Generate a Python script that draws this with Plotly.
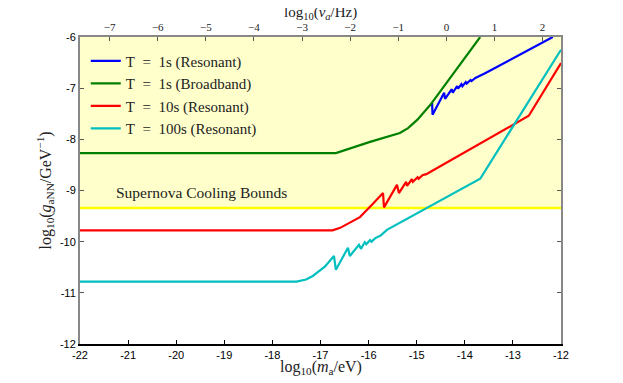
import plotly.graph_objects as go

# log10(m_a/eV) -> log10(nu_a/Hz) offset (1 eV / h = 2.418e14 Hz)
HZ_PER_EV_LOG = 14.383

SN_BOUND = -9.34  # supernova cooling bound on log10(g_aNN)

x_ticks = [-22, -21, -20, -19, -18, -17, -16, -15, -14, -13, -12]
y_ticks = [-12, -11, -10, -9, -8, -7, -6]
top_ticks = [-7, -6, -5, -4, -3, -2, -1, 0, 1, 2]

# T = 1s broadband
m_bb1 = [-22, -16.68, -15.97, -15.35, -15.18, -14.99, -14.72, -13.68]
g_bb1 = [-8.27, -8.27, -8.05, -7.875, -7.78, -7.62, -7.33, -6.0]

# T = 1s resonant
m_res1 = [-14.68, -14.67, -14.43, -14.41, -14.27, -14.25, -14.16, -14.14, -14.07, -14.05,
          -13.98, -13.96, -13.88, -13.86, -13.78, -13.70, -13.60, -13.50, -13.40, -13.27, -12.17]
g_res1 = [-7.29, -7.52, -7.09, -7.21, -7.02, -7.09, -6.96, -7.01, -6.92, -6.96,
          -6.88, -6.91, -6.84, -6.86, -6.80, -6.77, -6.72, -6.67, -6.62, -6.55, -6.0]

# T = 10s resonant
m_res10 = [-22, -16.75, -16.59, -16.4, -16.18, -15.93, -15.70, -15.68, -15.41, -15.37,
           -15.22, -15.20, -15.10, -15.08, -14.98, -14.96, -14.88, -14.80, -14.72, -12.67, -12.0]
g_res10 = [-9.78, -9.78, -9.73, -9.64, -9.52, -9.28, -9.05, -9.33, -8.89, -9.05,
           -8.83, -8.91, -8.78, -8.83, -8.74, -8.77, -8.70, -8.68, -8.64, -7.54, -6.51]

# T = 100s resonant
m_res100 = [-22, -17.5, -17.3, -17.16, -16.91, -16.72, -16.68, -16.43, -16.39, -16.20, -16.16,
            -16.08, -16.05, -15.97, -15.94, -15.86, -15.75, -15.62, -13.68, -12.0]
g_res100 = [-10.78, -10.78, -10.74, -10.67, -10.49, -10.28, -10.55, -10.12, -10.28, -10.06, -10.14,
            -10.01, -10.05, -9.97, -10.0, -9.93, -9.88, -9.77, -8.77, -6.25]

SERIF = "Liberation Serif"
SANS = "Liberation Sans"
NB = "\u00a0"

series = [
    ("T" + NB * 2 + "=" + NB * 2 + "1s (Resonant)", m_res1, g_res1, "#0000ff"),
    ("T" + NB * 2 + "=" + NB * 2 + "1s (Broadband)", m_bb1, g_bb1, "#008000"),
    ("T" + NB * 2 + "=" + NB * 2 + "10s (Resonant)", m_res10, g_res10, "#ff0000"),
    ("T" + NB * 2 + "=" + NB * 2 + "100s (Resonant)", m_res100, g_res100, "#00bfbf"),
]

fig = go.Figure()

# supernova bound line
fig.add_trace(go.Scatter(x=[x_ticks[0], x_ticks[-1]], y=[SN_BOUND, SN_BOUND], mode="lines",
                         line=dict(color="#ffff00", width=2.5), showlegend=False, hoverinfo="skip"))

for i, (name, xs, ys, col) in enumerate(series):
    fig.add_trace(go.Scatter(x=xs, y=ys, mode="lines", name=name, legendgroup=str(i),
                             line=dict(color=col, width=2.2)))

# invisible trace to carry the top (frequency) axis
fig.add_trace(go.Scatter(x=[x_ticks[0] + HZ_PER_EV_LOG], y=[SN_BOUND], xaxis="x2", mode="markers",
                         marker=dict(opacity=0), showlegend=False, hoverinfo="skip"))

fig.add_shape(type="rect", xref="x", yref="y", x0=x_ticks[0], x1=x_ticks[-1], y0=SN_BOUND, y1=y_ticks[-1],
              fillcolor="#ffffcc", line=dict(width=0), layer="below")

fig.add_annotation(x=-21.3, y=-9.03, xref="x", yref="y", text="Supernova Cooling Bounds",
                   showarrow=False, xanchor="left", font=dict(family=SERIF, size=15.5, color="#222"))

# axis titles
title_font = dict(family=SERIF, size=16, color="#222")
fig.add_annotation(x=0.5, y=-0.078, xref="paper", yref="paper", showarrow=False,
                   xanchor="center", yanchor="middle",
                   text="log<sub>10</sub>(<i>m</i><sub>a</sub>/eV)", font=title_font)
fig.add_annotation(x=0.5, y=1.078, xref="paper", yref="paper", showarrow=False,
                   xanchor="center", yanchor="middle",
                   text="log<sub>10</sub>(<i>\u03bd<sub>a</sub></i>/Hz)", font=dict(family=SERIF, size=15, color="#222"))
fig.add_annotation(x=-0.073, y=0.5, xref="paper", yref="paper", showarrow=False, textangle=-90,
                   xanchor="center", yanchor="middle",
                   text="log<sub>10</sub>(<i>g</i><sub>aNN</sub>/GeV<sup>\u22121</sup>)", font=title_font)

fig.update_layout(
    width=623, height=383,
    margin=dict(l=72, r=70, t=29, b=47),
    paper_bgcolor="white", plot_bgcolor="white",
    showlegend=True,
    legend=dict(x=0.012, y=0.975, xanchor="left", yanchor="top", bgcolor="rgba(0,0,0,0)",
                font=dict(family=SERIF, size=15, color="#222"), tracegroupgap=0),
    xaxis=dict(range=[x_ticks[0], x_ticks[-1]], tickmode="array", tickvals=x_ticks, automargin=False,
               ticktext=[str(t) for t in x_ticks], ticks="inside", ticklen=4, tickcolor="black",
               showline=True, linecolor="black", linewidth=1.5, showgrid=False, zeroline=False,
               tickfont=dict(family=SANS, size=11, color="black")),
    xaxis2=dict(overlaying="x", side="top", automargin=False,
                range=[x_ticks[0] + HZ_PER_EV_LOG, x_ticks[-1] + HZ_PER_EV_LOG],
                tickmode="array", tickvals=top_ticks, ticktext=[str(t).replace("-", "\u2212") for t in top_ticks],
                ticks="inside", ticklen=4, tickcolor="#555",
                showline=True, linecolor="#888", linewidth=2, showgrid=False, zeroline=False,
                tickfont=dict(family=SERIF, size=11, color="#222")),
    yaxis=dict(range=[y_ticks[0], y_ticks[-1]], tickmode="array", tickvals=y_ticks, automargin=False,
               ticktext=[str(t) for t in y_ticks], ticks="inside", ticklen=4, tickcolor="#555",
               showline=True, linecolor="#888", linewidth=2, mirror="ticks", showgrid=False, zeroline=False,
               tickfont=dict(family=SANS, size=11, color="black")),
)

fig.write_html("out.html")
